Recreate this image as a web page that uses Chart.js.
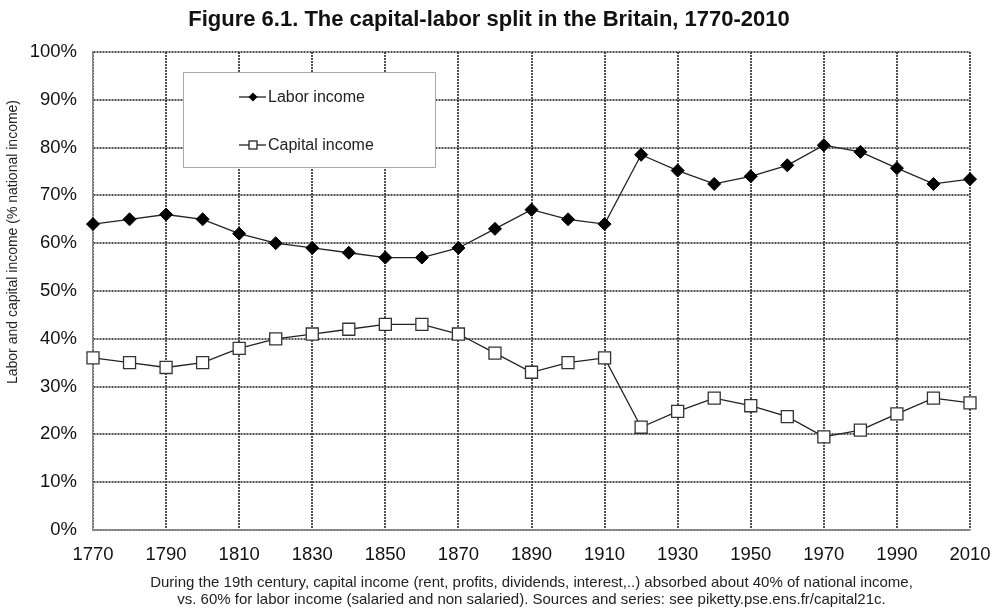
<!DOCTYPE html>
<html>
<head>
<meta charset="utf-8">
<title>Capital-labor split in Britain</title>
<script src="https://cdn.jsdelivr.net/npm/chart.js@4.4.1/dist/chart.umd.min.js"></script>
<style>
  html, body { margin: 0; padding: 0; background: #fff; }
  #wrap { width: 1001px; height: 610px; }
</style>
</head>
<body>
<div id="wrap"><canvas id="myChart" width="1001" height="610"></canvas></div>
<script>
// decades 1770-2010, share of national income (%)
const years = [1770, 1780, 1790, 1800, 1810, 1820, 1830, 1840, 1850, 1860, 1870, 1880, 1890,
  1900, 1910, 1920, 1930, 1940, 1950, 1960, 1970, 1980, 1990, 2000, 2010];
const laborIncome = [64, 65, 66, 65, 62, 60, 59, 58, 57, 57, 59, 63, 67,
  65, 64, 78.5, 75.2, 72.4, 74.0, 76.3, 80.5, 79.1, 75.7, 72.4, 73.4];
const capitalIncome = [36, 35, 34, 35, 38, 40, 41, 42, 43, 43, 41, 37, 33,
  35, 36, 21.5, 24.8, 27.6, 26.0, 23.7, 19.5, 20.9, 24.3, 27.6, 26.6];

const xTickYears = [1770, 1790, 1810, 1830, 1850, 1870, 1890, 1910, 1930, 1950, 1970, 1990, 2010];
const yTickValues = [0, 10, 20, 30, 40, 50, 60, 70, 80, 90, 100];

const seriesNames = ["Labor income", "Capital income"];
const titleText = "Figure 6.1. The capital-labor split in the Britain, 1770-2010";
const yAxisText = "Labor and capital income (% national income)";
const noteLines = [
  "During the 19th century, capital income (rent, profits, dividends, interest,..) absorbed about 40% of national income,",
  "vs. 60% for labor income (salaried and non salaried). Sources and series: see piketty.pse.ens.fr/capital21c."
];

const FONT = "'Liberation Sans', Arial, Helvetica, sans-serif";

function toPoints(values) {
  return years.map((yr, i) => ({ x: yr, y: values[i] }));
}

// title, rotated axis caption, footnote and the boxed legend
const decorations = {
  id: "decorations",
  afterDraw(chart) {
    const ctx = chart.ctx;
    const area = chart.chartArea;
    ctx.save();
    ctx.fillStyle = "#111";
    ctx.textAlign = "center";
    ctx.textBaseline = "middle";
    ctx.font = "bold 22px " + FONT;
    ctx.fillText(titleText, 489, 20);

    ctx.font = "15px " + FONT;
    ctx.fillStyle = "#222";
    noteLines.forEach((line, i) => ctx.fillText(line, (area.left + area.right) / 2, 583 + i * 17));

    ctx.save();
    ctx.translate(13, 242);
    ctx.rotate(-Math.PI / 2);
    ctx.font = "14px " + FONT;
    ctx.fillText(yAxisText, 0, 0);
    ctx.restore();

    // legend box
    const bx = 183, by = 72, bw = 252, bh = 95;
    ctx.fillStyle = "#fff";
    ctx.fillRect(bx, by, bw, bh);
    ctx.strokeStyle = "#aaa";
    ctx.lineWidth = 1;
    ctx.strokeRect(bx + 0.5, by + 0.5, bw, bh);

    const rows = [97, 145];
    ctx.font = "16px " + FONT;
    ctx.textAlign = "left";
    rows.forEach((ry, i) => {
      ctx.strokeStyle = "#222";
      ctx.lineWidth = 1.3;
      ctx.beginPath();
      ctx.moveTo(239, ry);
      ctx.lineTo(266, ry);
      ctx.stroke();
      if (i === 0) {
        ctx.fillStyle = "#000";
        ctx.beginPath();
        ctx.moveTo(253 - 4.5, ry);
        ctx.lineTo(253, ry - 4.5);
        ctx.lineTo(253 + 4.5, ry);
        ctx.lineTo(253, ry + 4.5);
        ctx.closePath();
        ctx.fill();
      } else {
        ctx.fillStyle = "#fff";
        ctx.fillRect(249, ry - 4, 8, 8);
        ctx.strokeRect(249, ry - 4, 8, 8);
      }
      ctx.fillStyle = "#222";
      ctx.fillText(seriesNames[i], 268, ry + 1);
    });
    ctx.restore();
  }
};

const ctx = document.getElementById("myChart").getContext("2d");
const myChart = new Chart(ctx, {
  type: "line",
  data: {
    datasets: [
      {
        label: seriesNames[0],
        data: toPoints(laborIncome),
        borderColor: "#222",
        borderWidth: 1.3,
        pointStyle: "rectRot",
        pointRadius: 6.5,
        pointBackgroundColor: "#000",
        pointBorderColor: "#000",
        pointBorderWidth: 1,
        tension: 0,
        clip: false
      },
      {
        label: seriesNames[1],
        data: toPoints(capitalIncome),
        borderColor: "#222",
        borderWidth: 1.3,
        pointStyle: "rect",
        pointRadius: 8.5,
        pointBackgroundColor: "#fff",
        pointBorderColor: "#333",
        pointBorderWidth: 1.3,
        tension: 0,
        clip: false
      }
    ]
  },
  options: {
    responsive: false,
    animation: false,
    layout: { padding: { top: 52, right: 31, bottom: 30, left: 0 } },
    plugins: {
      legend: { display: false },
      tooltip: { enabled: false }
    },
    scales: {
      x: {
        type: "linear",
        min: 1770,
        max: 2010,
        afterBuildTicks(scale) {
          scale.ticks = xTickYears.map(v => ({ value: v }));
        },
        afterFit(scale) {
          scale.height = 50;
          scale.paddingLeft = 0;
          scale.paddingRight = 0;
        },
        ticks: {
          color: "#111",
          font: { family: FONT, size: 18.5 },
          padding: 14,
          maxRotation: 0,
          callback: v => String(v)
        },
        grid: { color: "rgba(50,50,50,0.85)", lineWidth: 2, drawTicks: false },
        border: { color: "#888", width: 1.5, dash: [2, 1] }
      },
      y: {
        min: 0,
        max: 100,
        afterBuildTicks(scale) {
          scale.ticks = yTickValues.map(v => ({ value: v }));
        },
        afterFit(scale) { scale.width = 93; },
        ticks: {
          color: "#111",
          font: { family: FONT, size: 18.5 },
          padding: 16,
          callback: v => v + "%"
        },
        grid: { color: "rgba(50,50,50,0.85)", lineWidth: 2, drawTicks: false },
        border: { color: "#888", width: 1.5, dash: [2, 1] }
      }
    }
  },
  plugins: [decorations]
});
</script>
</body>
</html>
